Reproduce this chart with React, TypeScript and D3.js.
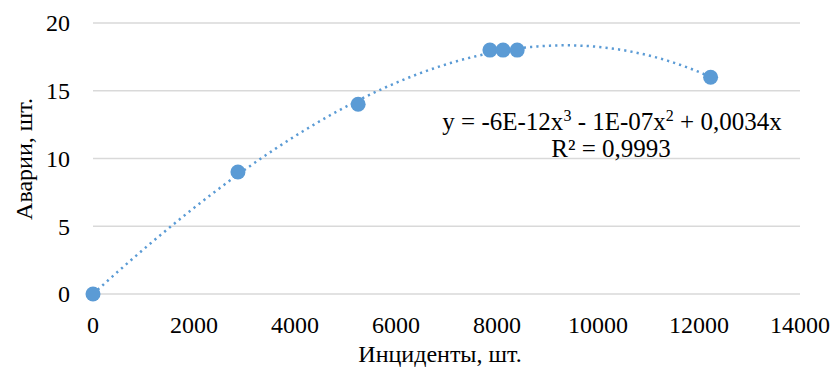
import React from "react";
import * as d3 from "d3";

const incidents = [0, 2870, 5250, 7860, 8120, 8400, 12230];
const accidents = [0, 9, 14, 18, 18, 18, 16];
const xTicks = [0, 2000, 4000, 6000, 8000, 10000, 12000, 14000];
const yTicks = [0, 5, 10, 15, 20];
const xTitle = "Инциденты, шт.";
const yTitle = "Аварии, шт.";
const eqText = ["y = -6E-12x", "3", " - 1E-07x", "2", " + 0,0034x"];
const r2Text = "R² = 0,9993";

// least squares fit y = a x^3 + b x^2 + c x (zero intercept)
function fitCubicNoIntercept(xs: number[], ys: number[]) {
  const s = 1e-4;
  const X = xs.map((x) => x * s);
  const S = (p: number) => d3.sum(X, (x) => Math.pow(x, p));
  const T = (p: number) => d3.sum(X, (x, i) => Math.pow(x, p) * ys[i]);
  const A = [
    [S(6), S(5), S(4)],
    [S(5), S(4), S(3)],
    [S(4), S(3), S(2)],
  ];
  const B = [T(3), T(2), T(1)];
  const n = 3;
  const M = A.map((r, i) => [...r, B[i]]);
  for (let i = 0; i < n; i++) {
    for (let k = i + 1; k < n; k++) {
      const f = M[k][i] / M[i][i];
      for (let j = i; j <= n; j++) M[k][j] -= f * M[i][j];
    }
  }
  const sol = [0, 0, 0];
  for (let i = n - 1; i >= 0; i--) {
    let v = M[i][n];
    for (let j = i + 1; j < n; j++) v -= M[i][j] * sol[j];
    sol[i] = v / M[i][i];
  }
  return (x: number) => {
    const u = x * s;
    return sol[0] * u * u * u + sol[1] * u * u + sol[2] * u;
  };
}

export default function App() {
  const W = 835, H = 370;
  const x = d3.scaleLinear().domain([0, 14000]).range([93, 800]);
  const y = d3.scaleLinear().domain([0, 20]).range([294, 23]);
  const f = fitCubicNoIntercept(incidents, accidents);
  const xMax = d3.max(incidents) as number;
  const samples = d3.range(0, xMax + 1, xMax / 200);
  const line = d3
    .line<number>()
    .x((d) => x(d))
    .y((d) => y(f(d)))
    .curve(d3.curveLinear);
  const ts: React.CSSProperties = {
    fontFamily:
      '"Liberation Serif", LiberationSerif, "Times New Roman", Times, Tinos, "DejaVu Serif", "Noto Serif", FreeSerif, serif',
  };
  const blue = "#5b9bd5";
  return (
    <svg
      width={W}
      height={H}
      style={{ position: "fixed", left: 0, top: 0, background: "#fff", ...ts }}
    >
      <rect width={W} height={H} fill="#fff" />
      {yTicks.map((t) => (
        <line key={t} x1={x(0)} x2={x(14000)} y1={y(t)} y2={y(t)} stroke="#d9d9d9" strokeWidth={1.3} />
      ))}
      {yTicks.map((t) => (
        <text key={t} style={ts} x={70} y={y(t)} dy="0.35em" textAnchor="end" fontSize={24} fill="#000">
          {t}
        </text>
      ))}
      {xTicks.map((t) => (
        <text key={t} style={ts} x={x(t)} y={333} textAnchor="middle" fontSize={24} fill="#000">
          {t}
        </text>
      ))}
      <path
        d={line(samples) || ""}
        fill="none"
        stroke={blue}
        strokeWidth={2.5}
        strokeDasharray="2.2 4.1"
      />
      {incidents.map((d, i) => (
        <circle key={i} cx={x(d)} cy={y(accidents[i])} r={7.5} fill={blue} />
      ))}
      <text style={ts} x={612} y={130} textAnchor="middle" fontSize={25} fill="#000">
        {eqText[0]}
        <tspan fontSize={16} dy={-9}>{eqText[1]}</tspan>
        <tspan dy={9}>{eqText[2]}</tspan>
        <tspan fontSize={16} dy={-9}>{eqText[3]}</tspan>
        <tspan dy={9}>{eqText[4]}</tspan>
      </text>
      <text style={ts} x={611} y={157} textAnchor="middle" fontSize={25} fill="#000">
        {r2Text}
      </text>
      <text style={ts} x={440} y={362} textAnchor="middle" fontSize={24} fill="#000">
        {xTitle}
      </text>
      <text
        style={ts}
        transform={`translate(32, 159) rotate(-90)`}
        textAnchor="middle"
        fontSize={24}
        fill="#000"
      >
        {yTitle}
      </text>
    </svg>
  );
}
